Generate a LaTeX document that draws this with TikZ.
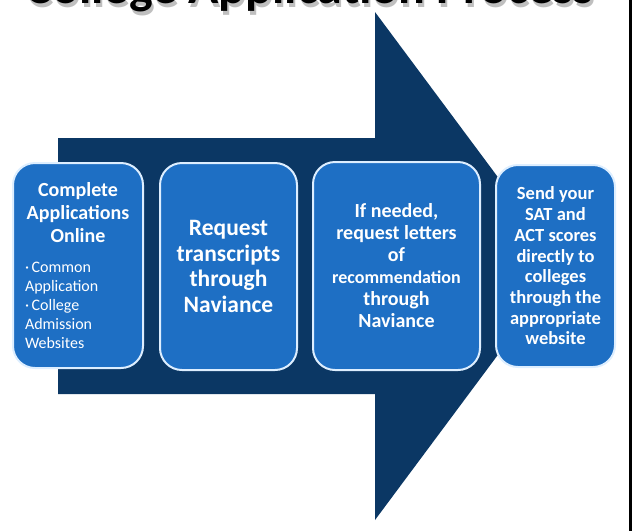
\documentclass[tikz,border=0pt]{standalone}
\usepackage{fontspec}
\setmainfont{Carlito}
\definecolor{navy}{HTML}{0B3764}
\definecolor{boxblue}{HTML}{1E6FC4}
\definecolor{rimblue}{HTML}{DDEEFF}

\begin{document}
\begin{tikzpicture}[x=1pt,y=-1pt,
  stage/.style={draw=rimblue,line width=2pt,fill=boxblue,rounded corners=22pt,
    text=white,align=center,inner sep=0pt},
  headline/.style={anchor=base,font=\bfseries\fontsize{50}{50}\selectfont}]
\useasboundingbox (0,0) rectangle (634,531);
\clip (0,0) rectangle (634,531);
% title, cut off at the top
\node[headline,text=black!25] (shadow) at (311.5,7) {College Application Process};
\node[headline] (title) at (309.5,3.5) {College Application Process};
% big arrow
\fill[navy] (58,138) -- (375,138) -- (375,12) -- (564,266) -- (375,520) -- (375,394) -- (58,394) -- cycle;
% the four steps
\node[stage,minimum width=130pt,minimum height=205pt,font=\bfseries\fontsize{20}{23}\selectfont] (apply) at (78,265.5) {Complete\\Applications\\Online\\[7pt]\parbox[t]{106pt}{\mdseries\fontsize{16}{19}\selectfont\raggedright
     \hangindent=7pt\hangafter=1 ·\,Common\\Application\par
     \hangindent=7pt\hangafter=1 ·\,College\\Admission\\Websites}};
\node[stage,minimum width=137pt,minimum height=207pt,font=\bfseries\fontsize{23.5}{25.5}\selectfont] (transcripts) at (228.5,266.5) {Request\\transcripts\\through\\Naviance};
\node[stage,minimum width=167pt,minimum height=208pt,font=\bfseries\fontsize{20}{22}\selectfont] (letters) at (396.5,266) {If needed,\\request letters\\of\\{\fontsize{18}{22}\selectfont recommendation}\\through\\Naviance};
\node[stage,minimum width=119pt,minimum height=202pt,font=\bfseries\fontsize{18.5}{20.7}\selectfont] (scores) at (555.5,266) {Send your\\SAT and\\ACT scores\\directly to\\colleges\\through the\\appropriate\\website};
% frame line at the right
\draw[line width=3pt] (630.5,0) -- (630.5,531);
\end{tikzpicture}
\end{document}
